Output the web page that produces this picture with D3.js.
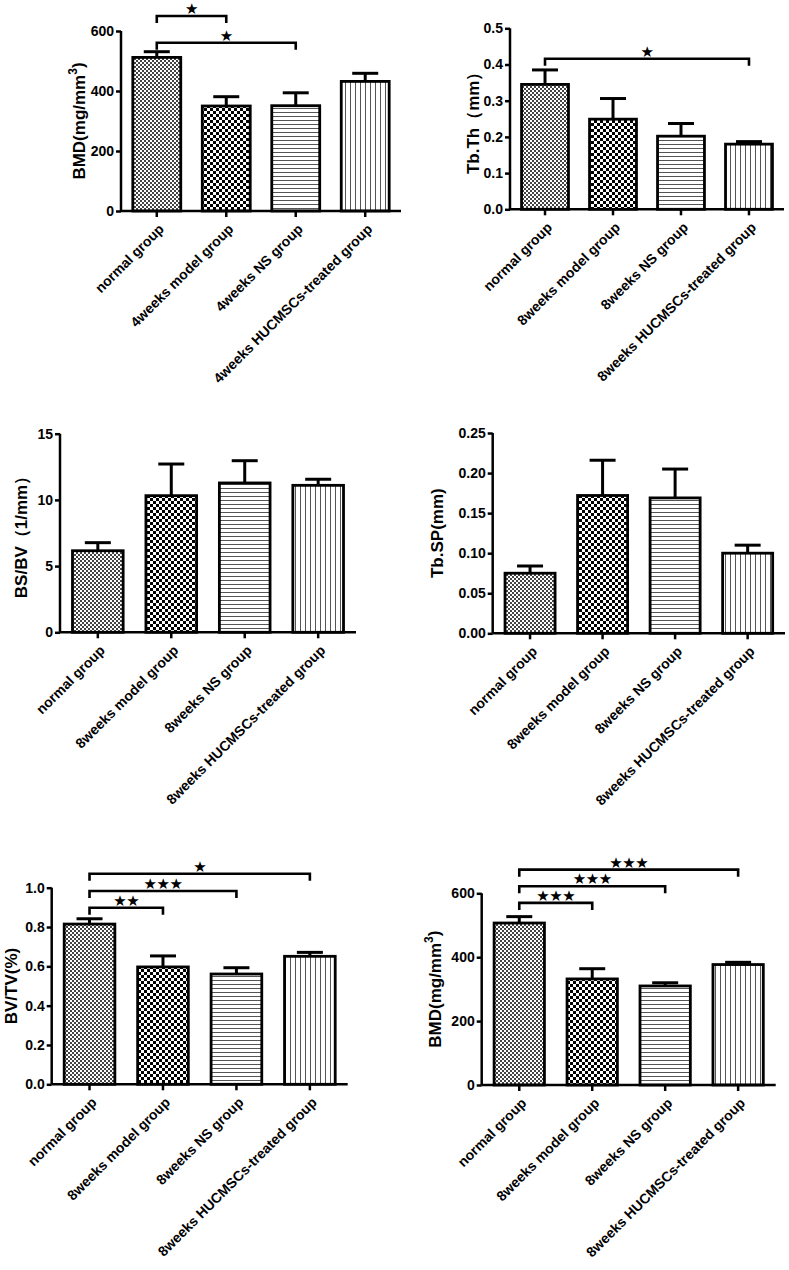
<!DOCTYPE html>
<html><head><meta charset="utf-8">
<script src="https://cdn.jsdelivr.net/npm/d3@7/dist/d3.min.js"></script>
<style>
body{margin:0;background:#fff}
svg{display:block}
text{font-family:"Liberation Sans",Arial,Helvetica,sans-serif;font-weight:bold;fill:#000}
.star{font-family:"DejaVu Sans",sans-serif;font-weight:normal}
</style>
</head><body>
<svg id="c" width="789" height="1270"></svg>
<script>
// ---------- data ----------
const groups4w = ["normal group","4weeks model group","4weeks NS group","4weeks HUCMSCs-treated group"];
const groups8w = ["normal group","8weeks model group","8weeks NS group","8weeks HUCMSCs-treated group"];

const bmd4wMean = [512, 350, 351, 432];
const bmd4wSem  = [19, 31, 43, 27];
const bmd4wTicks = [0, 200, 400, 600];
const bmd4wSig = [{from:0,to:1,label:"★"},{from:0,to:2,label:"★"}];

const tbthMean = [0.345, 0.249, 0.202, 0.180];
const tbthSem  = [0.040, 0.057, 0.035, 0.007];
const tbthTicks = [0.0, 0.1, 0.2, 0.3, 0.4, 0.5];
const tbthSig = [{from:0,to:3,label:"★"}];

const bsbvMean = [6.16, 10.32, 11.28, 11.10];
const bsbvSem  = [0.61, 2.39, 1.68, 0.46];
const bsbvTicks = [0, 5, 10, 15];
const bsbvSig = [];

const tbspMean = [0.075, 0.172, 0.169, 0.100];
const tbspSem  = [0.009, 0.044, 0.036, 0.010];
const tbspTicks = [0.00, 0.05, 0.10, 0.15, 0.20, 0.25];
const tbspSig = [];

const bvtvMean = [0.815, 0.597, 0.561, 0.651];
const bvtvSem  = [0.027, 0.056, 0.032, 0.020];
const bvtvTicks = [0.0, 0.2, 0.4, 0.6, 0.8, 1.0];
const bvtvSig = [{from:0,to:1,label:"★★"},{from:0,to:2,label:"★★★"},{from:0,to:3,label:"★"}];

const bmd8wMean = [507, 332, 310, 377];
const bmd8wSem  = [20, 32, 10, 7];
const bmd8wTicks = [0, 200, 400, 600];
const bmd8wSig = [{from:0,to:1,label:"★★★"},{from:0,to:2,label:"★★★"},{from:0,to:3,label:"★★★"}];

// ---------- layout ----------
const panels = [
  {cats:groups4w, mean:bmd4wMean, sem:bmd4wSem, ticks:bmd4wTicks, sig:bmd4wSig, fmt:d3.format("d"),
   ax:121, xEnd:401, yb:211, yt:31, max:600, labX:79, label:["BMD(mg/mm","3",")"], sigLv:[650,561]},
  {cats:groups8w, mean:tbthMean, sem:tbthSem, ticks:tbthTicks, sig:tbthSig, fmt:d3.format(".1f"),
   ax:510, xEnd:784, yb:209.3, yt:28.3, max:0.5, labX:473, label:["Tb.Th（mm）"], sigLv:[0.416]},
  {cats:groups8w, mean:bsbvMean, sem:bsbvSem, ticks:bsbvTicks, sig:bsbvSig, fmt:d3.format("d"),
   ax:60, xEnd:356, yb:632.3, yt:433.7, max:15, labX:21, label:["BS/BV（1/mm）"], sigLv:[]},
  {cats:groups8w, mean:tbspMean, sem:tbspSem, ticks:tbspTicks, sig:tbspSig, fmt:d3.format(".2f"),
   ax:492.7, xEnd:785, yb:633.3, yt:433, max:0.25, labX:437, label:["Tb.SP(mm)"], sigLv:[]},
  {cats:groups8w, mean:bvtvMean, sem:bvtvSem, ticks:bvtvTicks, sig:bvtvSig, fmt:d3.format(".1f"),
   ax:51.7, xEnd:347.7, yb:1084.3, yt:887.7, max:1.0, labX:11, label:["BV/TV(%)"], sigLv:[0.898,0.983,1.071]},
  {cats:groups8w, mean:bmd8wMean, sem:bmd8wSem, ticks:bmd8wTicks, sig:bmd8wSig, fmt:d3.format("d"),
   ax:481.7, xEnd:775.7, yb:1085, yt:893.3, max:600, labX:435, label:["BMD(mg/mm","3",")"], sigLv:[570,622,674]}
];

const svg = d3.select("#c");
const defs = svg.append("defs");

// patterns
function checker(id, cell, color){
  const p = defs.append("pattern").attr("id",id).attr("patternUnits","userSpaceOnUse")
    .attr("width",cell*2).attr("height",cell*2);
  p.append("rect").attr("width",cell*2).attr("height",cell*2).attr("fill","#fff");
  p.append("rect").attr("width",cell).attr("height",cell).attr("fill",color);
  p.append("rect").attr("x",cell).attr("y",cell).attr("width",cell).attr("height",cell).attr("fill",color);
}
checker("p0", 2, "#444");
checker("p1", 3, "#000");
{
  const p = defs.append("pattern").attr("id","p2").attr("patternUnits","userSpaceOnUse").attr("width",8).attr("height",4);
  p.append("rect").attr("width",8).attr("height",4).attr("fill","#fff");
  p.append("rect").attr("y",0).attr("width",8).attr("height",1).attr("fill","#555");
}
{
  const p = defs.append("pattern").attr("id","p3").attr("patternUnits","userSpaceOnUse").attr("width",5).attr("height",8);
  p.append("rect").attr("width",5).attr("height",8).attr("fill","#fff");
  p.append("rect").attr("x",0).attr("width",1).attr("height",8).attr("fill","#555");
}
const pats = ["url(#p0)","url(#p1)","url(#p2)","url(#p3)"];

panels.forEach(P => {
  const g = svg.append("g");
  const x = d3.scaleBand().domain(P.cats).range([P.ax, P.xEnd]).paddingInner(0.31).paddingOuter(0.17);
  const y = d3.scaleLinear().domain([0, P.max]).range([P.yb, P.yt]);

  // bars
  const bars = g.append("g");
  P.cats.forEach((c,i) => {
    const cx = x(c) + x.bandwidth()/2;
    bars.append("line").attr("x1",cx).attr("x2",cx)
      .attr("y1",y(P.mean[i])).attr("y2",y(P.mean[i]+P.sem[i]))
      .attr("stroke","#000").attr("stroke-width",3);
    bars.append("line").attr("x1",cx-13).attr("x2",cx+13)
      .attr("y1",y(P.mean[i]+P.sem[i])).attr("y2",y(P.mean[i]+P.sem[i]))
      .attr("stroke","#000").attr("stroke-width",3);
    bars.append("rect").attr("x",x(c)).attr("y",y(P.mean[i]))
      .attr("width",x.bandwidth()).attr("height",y(0)-y(P.mean[i]))
      .attr("fill",pats[i]).attr("stroke","#000").attr("stroke-width",2.8);
  });

  // y axis
  const ya = g.append("g").attr("transform",`translate(${P.ax},0)`)
    .call(d3.axisLeft(y).tickValues(P.ticks).tickFormat(P.fmt).tickSize(5).tickPadding(2));
  ya.select(".domain").attr("stroke-width",2.5).attr("d",`M0,${P.yt}V${P.yb}`);
  ya.selectAll(".tick line").attr("stroke-width",2.5);
  ya.selectAll(".tick text").attr("font-size",14).attr("font-family",'"Liberation Sans",Arial,sans-serif').attr("font-weight","bold");

  // x axis
  const xa = g.append("g").attr("transform",`translate(0,${P.yb})`)
    .call(d3.axisBottom(x).tickSize(6).tickFormat(""));
  xa.select(".domain").attr("stroke-width",2.5).attr("d",`M${P.ax},0H${P.xEnd}`);
  xa.selectAll(".tick line").attr("stroke-width",2.5);
  P.cats.forEach(c => {
    const cx = x(c) + x.bandwidth()/2;
    g.append("text").attr("text-anchor","end").attr("font-size",14)
      .attr("transform",`translate(${cx+8},${P.yb+19}) rotate(-45)`).text(c);
  });

  // y label
  const yl = g.append("text").attr("text-anchor","middle").attr("font-size",17)
    .attr("transform",`translate(${P.labX},${(P.yt+P.yb)/2}) rotate(-90)`)
    .attr("dy","0.36em");
  yl.append("tspan").text(P.label[0]);
  if (P.label.length > 1) {
    yl.append("tspan").attr("font-size",12).attr("dy","-0.7em").text(P.label[1]);
    yl.append("tspan").attr("dy","0.45em").text(P.label[2]);
  }

  // significance brackets
  P.sig.forEach((s,k) => {
    const lv = y(P.sigLv[k]);
    const x1 = x(P.cats[s.from]) + x.bandwidth()/2;
    const x2 = x(P.cats[s.to]) + x.bandwidth()/2;
    g.append("path").attr("d",`M${x1},${lv+7}V${lv}H${x2}V${lv+7}`)
      .attr("fill","none").attr("stroke","#000").attr("stroke-width",2.6);
    g.append("text").attr("class","star").attr("text-anchor","middle").attr("font-size",15)
      .attr("letter-spacing",-0.5)
      .attr("x",(x1+x2)/2).attr("y",lv-2).text(s.label);
  });
});
</script>
</body></html>
